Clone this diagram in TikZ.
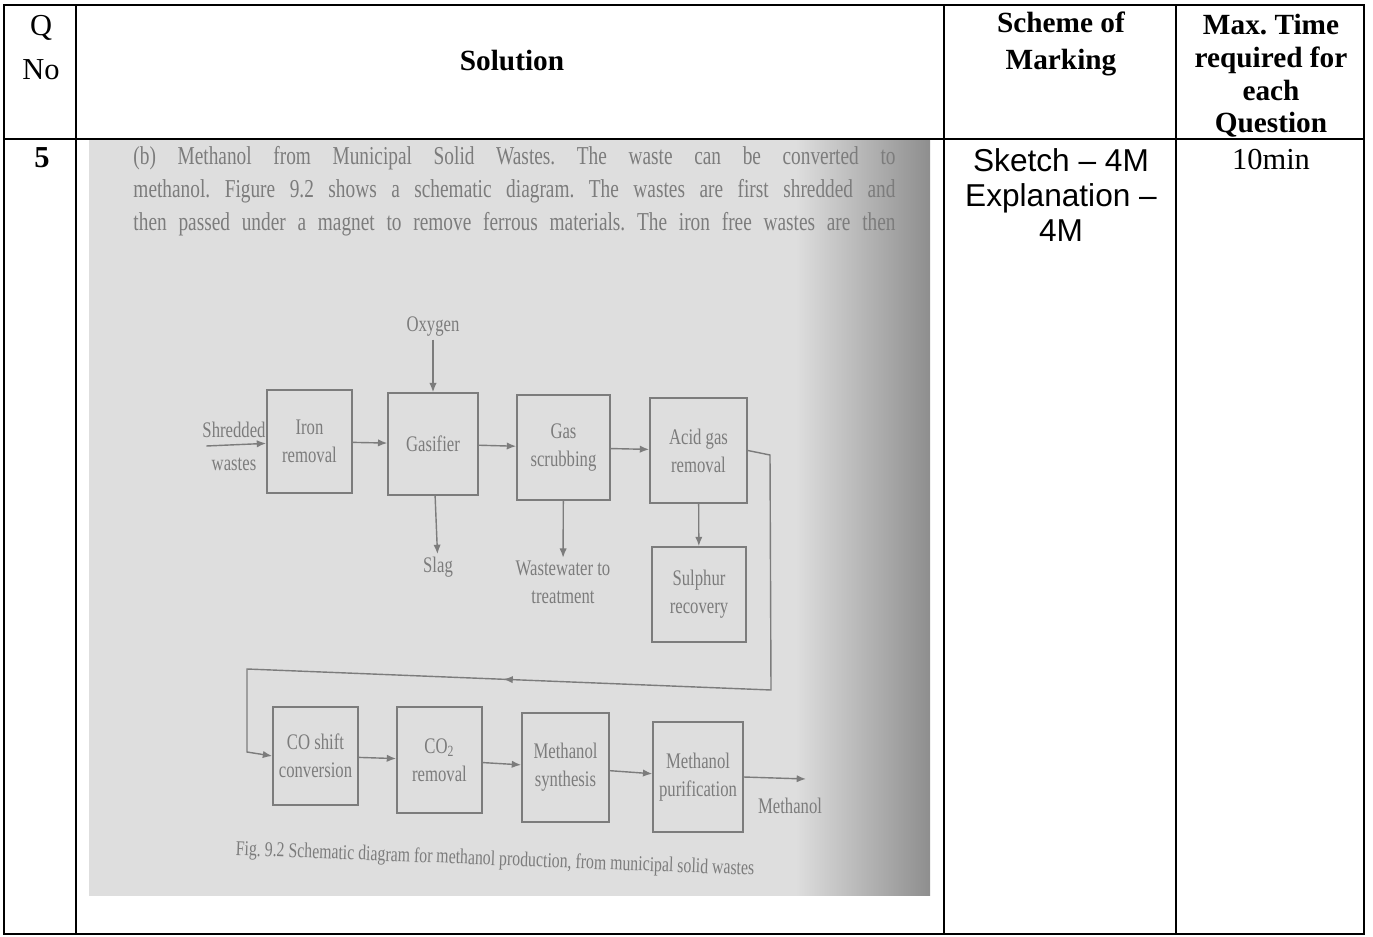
\documentclass[tikz,border=0pt]{standalone}
\usepackage{fontspec}
\setmainfont{Liberation Serif}
\setsansfont{Liberation Sans}
\newfontfamily\scanfont[FakeStretch=0.75]{Liberation Serif}
\usepackage{xcolor}
\usetikzlibrary{positioning,arrows.meta,decorations.markings}
\definecolor{scanbg}{HTML}{DEDEDE}
\definecolor{scanedge}{HTML}{8E8E8E}
\definecolor{scanink}{HTML}{7C7C7C}
\pgfdeclarehorizontalshading{scanshade}{100bp}{
  color(0bp)=(scanbg); color(25bp)=(scanbg); color(67bp)=(scanbg);
  color(75bp)=(scanedge); color(100bp)=(scanedge)}
\frenchspacing

\begin{document}
\begin{tikzpicture}[
    x=0.15mm, y=-0.15mm,
    rule/.style={
      line width=0.6pt
    },
    head/.style={
      align=center,
      font=\fontsize{12.5}{15.7}\selectfont\bfseries
    },
    body/.style={
      align=center,
      font=\fontsize{13}{15}\selectfont
    },
    sanstext/.style={
      align=center,
      font=\sffamily\fontsize{13.5}{15}\selectfont
    },
    scanline/.style={
      text=scanink,
      inner sep=0pt,
      font=\scanfont\fontsize{11}{12}\selectfont
    },
    unit/.style={
      draw=scanink,
      line width=0.6pt,
      minimum width=13.5mm,
      minimum height=15.8mm,
      inner sep=1pt,
      align=center,
      text=scanink,
      font=\scanfont\fontsize{9.5}{12}\selectfont
    },
    tag/.style={
      text=scanink,
      inner sep=1pt,
      align=center,
      font=\scanfont\fontsize{9.5}{12}\selectfont
    },
    flow/.style={
      draw=scanink,
      line width=0.6pt,
      -{Latex[length=1.4mm,width=1.1mm]}
    }
  ]
    \useasboundingbox (0,0) rectangle (1373,937);

    % scanned page
    \shade[shading=scanshade] (89,140) rectangle (930,895);

    \node[scanline, anchor=base west] (line1) at (133,165)
      {\makebox[114.3mm][s]{(b) Methanol from Municipal Solid Wastes. The waste can be converted to}};
    \node[scanline, anchor=base west] (line2) at (133,198)
      {\makebox[114.3mm][s]{methanol. Figure 9.2 shows a schematic diagram. The wastes are first shredded and}};
    \node[scanline, anchor=base west] (line3) at (133,231)
      {\makebox[114.3mm][s]{then passed under a magnet to remove ferrous materials. The iron free wastes are then}};

    % first row of units
    \node[unit, minimum width=12.8mm, minimum height=15.5mm] (iron) at (309.5,441.5) {Iron\\removal};
    \node[unit, minimum height=15.3mm] (gasif) at (433,444) {Gasifier};
    \node[unit, minimum width=14mm] (scrub) at (563.5,447.5) {Gas\\scrubbing};
    \node[unit, minimum width=14.6mm] (acid) at (698.5,450.5) {Acid gas\\removal};
    \node[unit, minimum width=14.1mm, minimum height=14.3mm] (sulph) at (699,594.5) {Sulphur\\recovery};

    \node[tag, font=\scanfont\fontsize{9.5}{14}\selectfont] (shred) at (234,446) {Shredded\\wastes};
    \node[tag] (oxy) at (433,327) {Oxygen};
    \node[tag] (slag) at (438,567) {Slag};
    \node[tag] (waste) at (563,582) {Wastewater to\\treatment};

    % second row of units
    \node[unit, minimum width=12.8mm, minimum height=14.7mm] (cos) at (315.5,756) {CO shift\\conversion};
    \node[unit, minimum width=12.8mm, minimum height=15.9mm] (cotwo) at (439.5,760) {CO\textsubscript{2}\\removal};
    \node[unit, minimum width=13.1mm, minimum height=16.4mm] (msyn) at (565.5,767.5) {Methanol\\synthesis};
    \node[unit, minimum height=16.5mm] (mpur) at (698,777) {Methanol\\purification};

    \node[tag] (meth) at (790,806) {Methanol};
    \coordinate (mout) at (806,779);

    \coordinate (loop1) at (770,455);
    \coordinate (loop2) at (771,690);
    \coordinate (loop3) at (247,669);
    \coordinate (loop4) at (247,752);

    \node[tag, rotate=-2.2, anchor=west, font=\scanfont\fontsize{9}{11}\selectfont] (cap) at (233,850)
      {Fig. 9.2 Schematic diagram for methanol production, from municipal solid wastes};

    % connectors
    \draw[flow] ([xshift=1mm]shred.west) -- (iron);
    \draw[flow] (iron) -- (gasif);
    \draw[flow] (gasif) -- (scrub);
    \draw[flow] (scrub) -- (acid);
    \draw[flow] (oxy) -- (gasif);
    \draw[flow] (gasif) -- (slag);
    \draw[flow] (scrub) -- (waste);
    \draw[flow] (acid) -- (sulph);
    \draw[flow, postaction={decorate},
      decoration={markings, mark=at position 0.59 with {\arrow{Latex[length=1.4mm,width=1.1mm]}}}]
      (acid.east) -- (loop1) -- (loop2) -- (loop3) -- (loop4) -- (cos.west);
    \draw[flow] (cos) -- (cotwo);
    \draw[flow] (cotwo) -- (msyn);
    \draw[flow] (msyn) -- (mpur);
    \draw[flow] (mpur.east) -- (mout);

    % table
    \draw[rule] (4,5) rectangle (1364,934);
    \draw[rule] (4,139) -- (1364,139);
    \foreach \cx in {76,944,1176}
      \draw[rule] (\cx,5) -- (\cx,934);

    \node[body] (qhead) at (41,28) {Q};
    \node[body] (nohead) at (41,70) {No};
    \node[head] (solhead) at (512,61) {Solution};
    \node[head] (markhead) at (1061,44) {Scheme of\\Marking};
    \node[head, font=\fontsize{12.5}{14}\selectfont\bfseries] (timehead) at (1271,76) {Max. Time\\required for\\each\\Question};

    \node[body, font=\fontsize{13}{15}\selectfont\bfseries] (qnum) at (42,158) {5};
    \node[sanstext] (marks) at (1061,195) {Sketch – 4M\\Explanation –\\4M};
    \node[body] (mins) at (1271,160) {10min};
  \end{tikzpicture}
\end{document}
